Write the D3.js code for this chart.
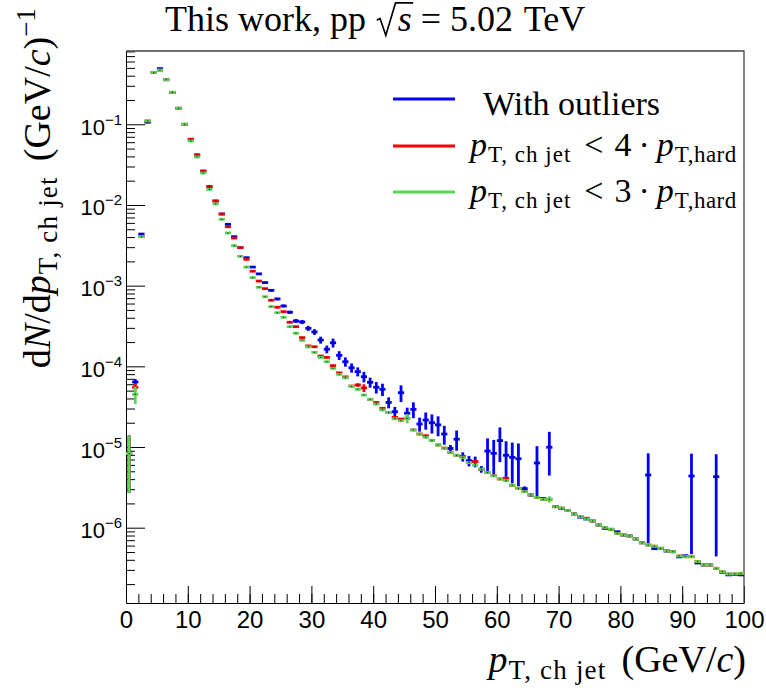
<!DOCTYPE html>
<html>
<head>
<meta charset="utf-8">
<script src="https://cdn.jsdelivr.net/npm/d3@7"></script>
<style>
  body { margin: 0; background: #fff; }
  svg { display: block; }
</style>
</head>
<body>
<svg id="chart" width="766" height="691"></svg>
<script>
// Charged-jet pT spectrum, 1 GeV/c bins from 0 to 100 GeV/c
const binEdges = d3.range(0, 101);            // 0,1,...,100
const xTicksMajor = [0, 10, 20, 30, 40, 50, 60, 70, 80, 90, 100];
const yDecades = [-6, -5, -4, -3, -2, -1];     // exponents of labelled decades

// dN/dpT per bin: full sample (with outliers)
const withOutliers = [
  8.3e-6, 6.4e-5, 4.36e-3, 0.106, 0.44, 0.49, 0.357, 0.249, 0.158, 0.100,
  0.0652, 0.0417, 0.0263, 0.0169, 0.0112, 0.00773, 0.00576, 0.00405, 0.00296, 0.00222,
  1.70e-3, 1.40e-3, 1.09e-3, 8.75e-4, 6.84e-4, 5.60e-4, 4.68e-4, 3.65e-4, 3.55e-4, 2.96e-4,
  2.67e-4, 2.12e-4, 1.63e-4, 1.96e-4, 1.37e-4, 1.14e-4, 9.6e-5, 8.6e-5, 7.44e-5, 6.34e-5,
  5.5e-5, 5.19e-5, 3.57e-5, 2.74e-5, 4.71e-5, 2.62e-5, 2.93e-5, 1.93e-5, 2.16e-5, 2.0e-5,
  1.88e-5, 1.45e-5, 9.6e-6, 1.25e-5, 7.6e-6, 6.76e-6, 6.6e-6, 5.3e-6, 8.9e-6, 8.35e-6,
  1.2e-5, 7.9e-6, 7.45e-6, 7.16e-6, 3.05e-6, 2.54e-6, 6.34e-6, 2.3e-6, 9.93e-6, 1.82e-6,
  1.72e-6, 1.63e-6, 1.48e-6, 1.35e-6, 1.28e-6, 1.21e-6, 1.08e-6, 9.8e-7, 9.55e-7, 8.9e-7,
  8.1e-7, 7.9e-7, 7.24e-7, 6.5e-7, 4.5e-6, 5.5e-7, 5.55e-7, 5.14e-7, 5.04e-7, 4.35e-7,
  4.5e-7, 4.37e-6, 3.65e-7, 3.45e-7, 3.45e-7, 4.29e-6, 2.8e-7, 2.6e-7, 2.62e-7, 2.6e-7
];
const withOutliersErr = [
  5.6e-6, 5.5e-6, 0, 0, 0, 0, 0, 0, 0, 0,
  0, 0, 0, 0, 0, 0, 0, 0, 0, 0,
  4e-5, 3.5e-5, 3e-5, 2.8e-5, 2.5e-5, 2.2e-5, 2.2e-5, 2.1e-5, 2.1e-5, 2.1e-5,
  2.2e-5, 2.1e-5, 1.8e-5, 2.5e-5, 1.7e-5, 1.5e-5, 1.25e-5, 1.1e-5, 1.1e-5, 9e-6,
  9e-6, 9e-6, 5.5e-6, 4e-6, 1.1e-5, 4.5e-6, 6.5e-6, 3.8e-6, 5.2e-6, 5.3e-6,
  5.2e-6, 3.8e-6, 1e-6, 3.5e-6, 1e-6, 1e-6, 1e-6, 5e-7, 3.9e-6, 3.9e-6,
  5.5e-6, 3.9e-6, 3.9e-6, 3.9e-6, 2e-7, 1e-7, 3.9e-6, 1e-7, 5.5e-6, 0,
  0, 0, 0, 0, 0, 0, 0, 0, 0, 0,
  0, 0, 0, 0, 3.86e-6, 0, 0, 0, 0, 0,
  0, 3.9e-6, 0, 0, 0, 3.85e-6, 0, 0, 0, 0
];

// pT,ch jet < 4 pT,hard
const cut4 = [
  8.3e-6, 5.5e-5, 4.05e-3, 0.110, 0.44, 0.47, 0.357, 0.249, 0.158, 0.100,
  0.0652, 0.0417, 0.0263, 0.0169, 0.0112, 0.00773, 0.00538, 0.0039, 0.00296, 0.00212,
  1.51e-3, 1.14e-3, 9.18e-4, 6.59e-4, 5.40e-4, 4.76e-4, 3.52e-4, 3.10e-4, 2.27e-4, 1.79e-4,
  1.75e-4, 1.34e-4, 1.29e-4, 1.02e-4, 8.3e-5, 7.4e-5, 5.7e-5, 5.87e-5, 5.4e-5, 3.9e-5,
  3.57e-5, 3.02e-5, 2.67e-5, 2.33e-5, 2.22e-5, 2.27e-5, 1.63e-5, 1.45e-5, 1.38e-5, 1.2e-5,
  1.06e-5, 9.7e-6, 8.6e-6, 7.9e-6, 7.6e-6, 6.4e-6, 6.6e-6, 5.3e-6, 4.81e-6, 4.41e-6,
  4.02e-6, 4.1e-6, 3.36e-6, 3.08e-6, 2.8e-6, 2.54e-6, 2.38e-6, 2.25e-6, 2.25e-6, 1.82e-6,
  1.75e-6, 1.63e-6, 1.48e-6, 1.38e-6, 1.31e-6, 1.21e-6, 1.08e-6, 1.01e-6, 9.55e-7, 8.5e-7,
  8.1e-7, 7.9e-7, 7.24e-7, 6.5e-7, 6.1e-7, 5.9e-7, 5.55e-7, 5.14e-7, 5.04e-7, 4.46e-7,
  4.37e-7, 4.37e-7, 3.8e-7, 3.45e-7, 3.45e-7, 3.14e-7, 2.85e-7, 2.67e-7, 2.67e-7, 2.72e-7
];
const cut4Err = [
  5.6e-6, 6e-6, 0, 0, 0, 0, 0, 0, 0, 0,
  0, 0, 0, 0, 0, 0, 0, 0, 0, 0,
  0, 0, 0, 0, 0, 0, 0, 0, 0, 0,
  0, 0, 0, 0, 0, 0, 0, 3e-6, 6e-6, 0,
  0, 0, 0, 0, 0, 0, 0, 0, 0, 0,
  0, 0, 0, 0, 0, 0, 0, 0, 0, 0,
  0, 0, 0, 0, 0, 0, 0, 0, 0, 0,
  0, 0, 0, 0, 0, 0, 0, 0, 0, 0,
  0, 0, 0, 0, 0, 0, 0, 0, 0, 0,
  0, 0, 0, 0, 0, 0, 0, 0, 0, 0
];

// pT,ch jet < 3 pT,hard
const cut3 = [
  8.3e-6, 4.5e-5, 4.05e-3, 0.110, 0.44, 0.47, 0.357, 0.249, 0.158, 0.100,
  0.0621, 0.0394, 0.0249, 0.0156, 0.0103, 0.00664, 0.0045, 0.00313, 0.00231, 0.0017,
  1.26e-3, 9.55e-4, 7.3e-4, 5.5e-4, 4.63e-4, 4.05e-4, 3.1e-4, 2.57e-4, 2.1e-4, 1.74e-4,
  1.49e-4, 1.29e-4, 1.14e-4, 9.45e-5, 7.95e-5, 7.2e-5, 5.65e-5, 5.19e-5, 4.41e-5, 3.9e-5,
  3.41e-5, 2.88e-5, 2.67e-5, 2.24e-5, 2.12e-5, 2.27e-5, 1.63e-5, 1.45e-5, 1.32e-5, 1.2e-5,
  1.06e-5, 9.7e-6, 8.6e-6, 7.9e-6, 7.38e-6, 6.4e-6, 5.98e-6, 5.3e-6, 4.81e-6, 4.41e-6,
  4.02e-6, 3.82e-6, 3.36e-6, 3.08e-6, 2.8e-6, 2.54e-6, 2.38e-6, 2.25e-6, 2.25e-6, 1.82e-6,
  1.75e-6, 1.63e-6, 1.48e-6, 1.38e-6, 1.28e-6, 1.21e-6, 1.08e-6, 1.01e-6, 9.55e-7, 8.5e-7,
  8.1e-7, 7.9e-7, 7.24e-7, 6.5e-7, 6.1e-7, 5.9e-7, 5.55e-7, 5.14e-7, 5.04e-7, 4.46e-7,
  4.37e-7, 4.37e-7, 3.8e-7, 3.45e-7, 3.45e-7, 3.14e-7, 2.85e-7, 2.67e-7, 2.67e-7, 2.72e-7
];
const cut3Err = [
  5.6e-6, 1.1e-5, 0, 0, 0, 0, 0, 0, 0, 0,
  0, 0, 0, 0, 0, 0, 0, 0, 0, 0,
  0, 0, 0, 0, 0, 0, 0, 0, 0, 0,
  0, 0, 0, 0, 0, 0, 0, 0, 0, 0,
  0, 0, 0, 0, 0, 3e-6, 0, 0, 0, 0,
  0, 0, 0, 0, 0, 0, 0, 0, 0, 0,
  0, 0, 0, 0, 0, 0, 0, 0, 2e-7, 0,
  0, 0, 0, 0, 0, 0, 0, 0, 0, 0,
  0, 0, 0, 0, 0, 0, 0, 0, 0, 0,
  0, 0, 0, 0, 0, 0, 0, 0, 0, 0
];

const series = [
  { name: "outliers", values: withOutliers, errors: withOutliersErr, color: "#0000ff" },
  { name: "cut4",     values: cut4,         errors: cut4Err,         color: "#ff0000" },
  { name: "cut3",     values: cut3,         errors: cut3Err,         color: "#59d454" }
];

// ---------------------------------------------------------------
const frame = { left: 126, top: 51, right: 744, bottom: 603 };
const serif = "'Liberation Serif', 'DejaVu Serif', serif";
const sans = "'Liberation Sans', Arial, Helvetica, sans-serif";

const svg = d3.select("#chart");
svg.append("rect").attr("width", 766).attr("height", 691).attr("fill", "#fff");

const x = d3.scaleLinear().domain([0, 100]).range([frame.left, frame.right]);
const y = d3.scaleLog().domain([1.166e-7, 0.81]).range([frame.bottom, frame.top]);

// lays out a row of text runs; returns total advance
function runs(g, parts, family) {
  let cx = 0;
  parts.forEach(p => {
    const t = g.append("text")
      .attr("x", cx + (p.dx || 0))
      .attr("y", p.dy || 0)
      .attr("font-family", family || serif)
      .attr("font-size", p.size)
      .attr("font-style", p.it ? "italic" : "normal")
      .attr("letter-spacing", p.ls || 0)
      .attr("fill", "#000")
      .text(p.t);
    cx += (p.dx || 0) + t.node().getComputedTextLength();
  });
  return cx;
}

// ---- axes ----
const minorX = d3.range(0, 101, 2);
svg.append("g")
  .attr("transform", `translate(0,${frame.bottom})`)
  .call(d3.axisBottom(x).tickValues(minorX).tickSize(-9).tickSizeOuter(0).tickFormat(""))
  .call(g => g.select(".domain").remove());
const gx = svg.append("g")
  .attr("transform", `translate(0,${frame.bottom})`)
  .call(d3.axisBottom(x).tickValues(xTicksMajor).tickSize(-17).tickSizeOuter(0).tickFormat(d3.format("d")));
gx.selectAll("text").attr("y", 8).attr("dy", "0.71em")
  .attr("font-family", sans).attr("font-size", 24).attr("fill", "#000");

const minorY = [];
for (let e = -7; e <= -1; e++) for (let m = 2; m <= 9; m++) {
  const v = m * Math.pow(10, e);
  if (v >= y.domain()[0] && v <= y.domain()[1]) minorY.push(v);
}
svg.append("g")
  .attr("transform", `translate(${frame.left},0)`)
  .call(d3.axisLeft(y).tickValues(minorY).tickSize(-9).tickSizeOuter(0).tickFormat(""))
  .call(g => g.select(".domain").remove());
const gy = svg.append("g")
  .attr("transform", `translate(${frame.left},0)`)
  .call(d3.axisLeft(y).tickValues(yDecades.map(e => Math.pow(10, e))).tickSize(-19).tickSizeOuter(0).tickFormat(""));
gy.selectAll(".tick").each(function (d) {
  const e = Math.round(Math.log10(d));
  const t = d3.select(this).append("text")
    .attr("x", -4).attr("y", 10)
    .attr("text-anchor", "end")
    .attr("font-family", sans).attr("font-size", 22).attr("fill", "#000");
  t.append("tspan").text("10");
  t.append("tspan").attr("font-size", 15).attr("dy", -10).text("\u2212" + Math.abs(e));
});
svg.selectAll(".tick line").attr("stroke", "#000");
svg.selectAll(".domain").attr("stroke", "#000");

// top and right edges of the frame
svg.append("path")
  .attr("d", `M${frame.left},${frame.top}H${frame.right}V${frame.bottom}`)
  .attr("fill", "none").attr("stroke", "#444").attr("stroke-width", 1.3);

// ---- histogram points ----
svg.append("clipPath").attr("id", "plotclip")
  .append("rect").attr("x", frame.left).attr("y", frame.top)
  .attr("width", frame.right - frame.left).attr("height", frame.bottom - frame.top);
const plot = svg.append("g").attr("clip-path", "url(#plotclip)");

series.forEach(s => {
  const pts = s.values.map((v, i) => ({ lo: binEdges[i], hi: binEdges[i + 1], v, e: s.errors[i] }))
    .filter(d => d.v > 0);
  const g = plot.append("g").attr("stroke", s.color).attr("stroke-width", 2.8).attr("fill", "none");
  g.selectAll("line.h").data(pts).join("line").attr("class", "h")
    .attr("x1", d => x(d.lo)).attr("x2", d => x(d.hi))
    .attr("y1", d => y(d.v)).attr("y2", d => y(d.v));
  g.selectAll("line.v").data(pts.filter(d => d.e > 0)).join("line").attr("class", "v")
    .attr("x1", d => x((d.lo + d.hi) / 2)).attr("x2", d => x((d.lo + d.hi) / 2))
    .attr("y1", d => y(d.v + d.e))
    .attr("y2", d => y(Math.max(d.v - d.e, 1e-9)));
  plot.append("g").selectAll("rect").data(pts).join("rect")
    .attr("x", d => x((d.lo + d.hi) / 2) - 0.6).attr("y", d => y(d.v) - 0.6)
    .attr("width", 1.2).attr("height", 1.2).attr("fill", "#000").attr("opacity", 0.75);
});

// ---- legend ----
const ptCut = n => [
  { t: "p", size: 34, it: true },
  { t: "T, ch jet", size: 23, dy: 6, dx: 1, ls: 1 },
  { t: "<", size: 34, dx: 13 },
  { t: n, size: 34, dx: 11 },
  { t: "\u00b7", size: 34, dx: 7 },
  { t: "p", size: 34, it: true, dx: 7 },
  { t: "T,hard", size: 23, dy: 6, dx: 1, ls: 0.5 }
];
const legendRows = [
  { color: "#0000ff", parts: [{ t: "With outliers", size: 34 }], x0: 483, base: 16 },
  { color: "#ff0000", parts: ptCut("4"), x0: 470, base: 10 },
  { color: "#59d454", parts: ptCut("3"), x0: 470, base: 10 }
];
const legendY = [99, 146, 192];
legendRows.forEach((r, i) => {
  svg.append("line").attr("x1", 393).attr("x2", 455)
    .attr("y1", legendY[i]).attr("y2", legendY[i])
    .attr("stroke", r.color).attr("stroke-width", 3);
  const g = svg.append("g").attr("transform", `translate(${r.x0},${legendY[i] + r.base})`);
  runs(g, r.parts);
});

// ---- title ----
{
  const g = svg.append("g").attr("transform", "translate(165,31)");
  const S = 36;
  let cx = runs(g, [{ t: "This work, pp", size: S }]);
  cx += 0.3 * S;
  const g2 = g.append("g").attr("transform", `translate(${cx},0)`);
  const sx = 0.58 * S;
  const sW = runs(g2.append("g").attr("transform", `translate(${sx},0)`), [{ t: "s", size: S, it: true }]);
  g2.append("path")
    .attr("d", `M0,${-0.30 * S}L${0.09 * S},${-0.35 * S}L${0.25 * S},${0.12 * S}L${0.52 * S},${-0.78 * S}H${sx + sW + 0.04 * S}`)
    .attr("fill", "none").attr("stroke", "#000").attr("stroke-width", 1.6);
  cx += sx + sW;
  const g3 = g.append("g").attr("transform", `translate(${cx},0)`);
  runs(g3, [{ t: "=", size: S, dx: 0.25 * S }, { t: "5.02", size: S, dx: 0.25 * S }, { t: "TeV", size: S, dx: 0.3 * S }]);
}

// ---- axis titles ----
const subChJet = { t: "T, ch jet", size: 27, dy: 7, dx: 1, ls: 1.2 };
const unitRuns = [
  { t: "(GeV/", size: 38, dx: 15 },
  { t: "c", size: 38, it: true },
  { t: ")", size: 38 }
];
{
  const g = svg.append("g");
  const w = runs(g, [{ t: "p", size: 38, it: true }, subChJet, ...unitRuns]);
  g.attr("transform", `translate(${frame.right + 2 - w},672)`);
}
{
  const g = svg.append("g");
  const w = runs(g, [
    { t: "d", size: 38 },
    { t: "N", size: 38, it: true },
    { t: "/d", size: 38 },
    { t: "p", size: 38, it: true },
    subChJet,
    ...unitRuns,
    { t: "\u22121", size: 27, dy: -15 }
  ]);
  g.attr("transform", `translate(50,${8 + w}) rotate(-90)`);
}
</script>
</body>
</html>
